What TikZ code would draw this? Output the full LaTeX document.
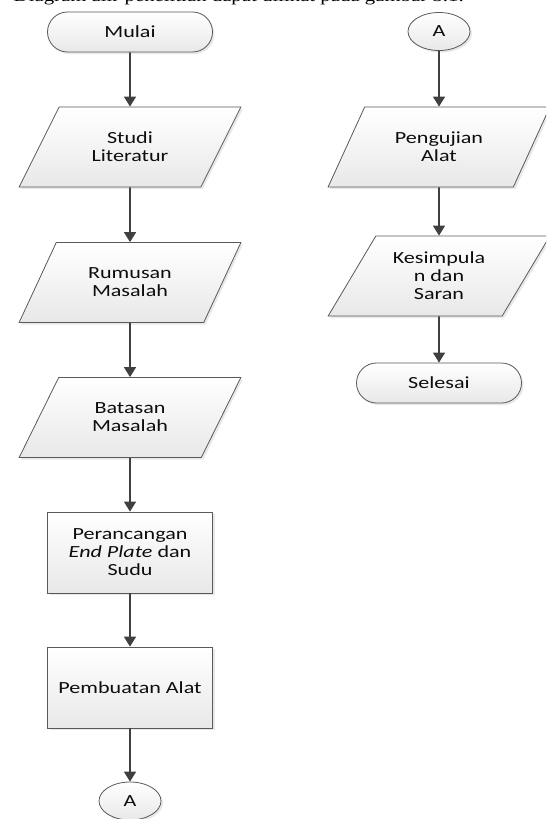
\documentclass[tikz,border=0pt]{standalone}
\usepackage{fontspec}
\setmainfont[FakeStretch=1.3]{Carlito}
\newfontfamily\bodyfont[FakeStretch=1.3]{Liberation Serif}
\usetikzlibrary{shapes.geometric,shapes.misc,arrows.meta,shadows}

\begin{document}
\begin{tikzpicture}[
                x=1pt, y=-1pt,
                line width=0.8pt,
                flowline/.style={-{Triangle[length=10pt,width=12pt]},draw=black!75,line width=1.6pt},
                shapebase/.style={draw=black!65,top color=white,bottom color=black!9,text=black!95,align=center,
                    font=\fontsize{17}{18}\selectfont,drop shadow={opacity=.18,shadow xshift=2pt,shadow yshift=-2pt}},
                terminal/.style={shapebase,rounded rectangle,minimum width=165pt,minimum height=40pt,inner sep=0pt},
                datastep/.style={shapebase,trapezium,trapezium left angle=54,trapezium right angle=126,
                    trapezium stretches=true,minimum width=222pt,minimum height=80pt,inner sep=0pt},
                processstep/.style={shapebase,rectangle,minimum width=165pt,minimum height=81pt,inner sep=0pt},
                offpage/.style={shapebase,ellipse,minimum width=62pt,minimum height=38pt,inner sep=0pt}
                ]

                    \useasboundingbox (0,0) rectangle (546,819);
                    \clip (0,0) rectangle (546,819);

                    % cut line of text above the chart
                    \node[anchor=base west,font=\bodyfont\fontsize{16}{18}\selectfont,text=black] (Caption) at (10,1.5) {Diagram alir penelitian dapat dilihat pada gambar 3.1.};


                    % 1
                    \node[terminal] (Start) at (130,32) {Mulai}; % 1
                    \node[datastep] (StepA1) at (130,147) {Studi\\Literatur}; % 2
                    \node[datastep] (StepA2) at (130,282.5) {Rumusan\\Masalah}; % 3
                    \node[datastep] (StepA3) at (130,417.5) {Batasan\\Masalah}; % 4
                    \node[processstep] (StepA4) at (130,552.5) {Perancangan\\\textit{End Plate} dan\\Sudu}; % 5
                    \node[processstep] (StepA5) at (130,687.5) {Pembuatan Alat}; % 6
                    \node[offpage] (ConnA1) at (130,801) {A}; % 7


                    \draw[flowline] (Start) to (StepA1);
                    \draw[flowline] (StepA1) to (StepA2);
                    \draw[flowline] (StepA2) to (StepA3);
                    \draw[flowline] (StepA3) to (StepA4);
                    \draw[flowline] (StepA4) to (StepA5);
                    \draw[flowline] (StepA5) to (ConnA1);



                    % 2
                    \node[offpage] (ConnA2) at (439,31.5) {A}; % 1
                    \node[datastep] (StepB1) at (439,147) {Pengujian\\Alat}; % 2
                    \node[datastep] (StepB2) at (439,276) {Kesimpula\\n dan\\Saran}; % 3
                    \node[terminal] (Finish) at (439,383) {Selesai}; % 4


                    \draw[flowline] (ConnA2) to (StepB1);
                    \draw[flowline] (StepB1) to (StepB2);
                    \draw[flowline] (StepB2) to (Finish);

                    \end{tikzpicture}
\end{document}
